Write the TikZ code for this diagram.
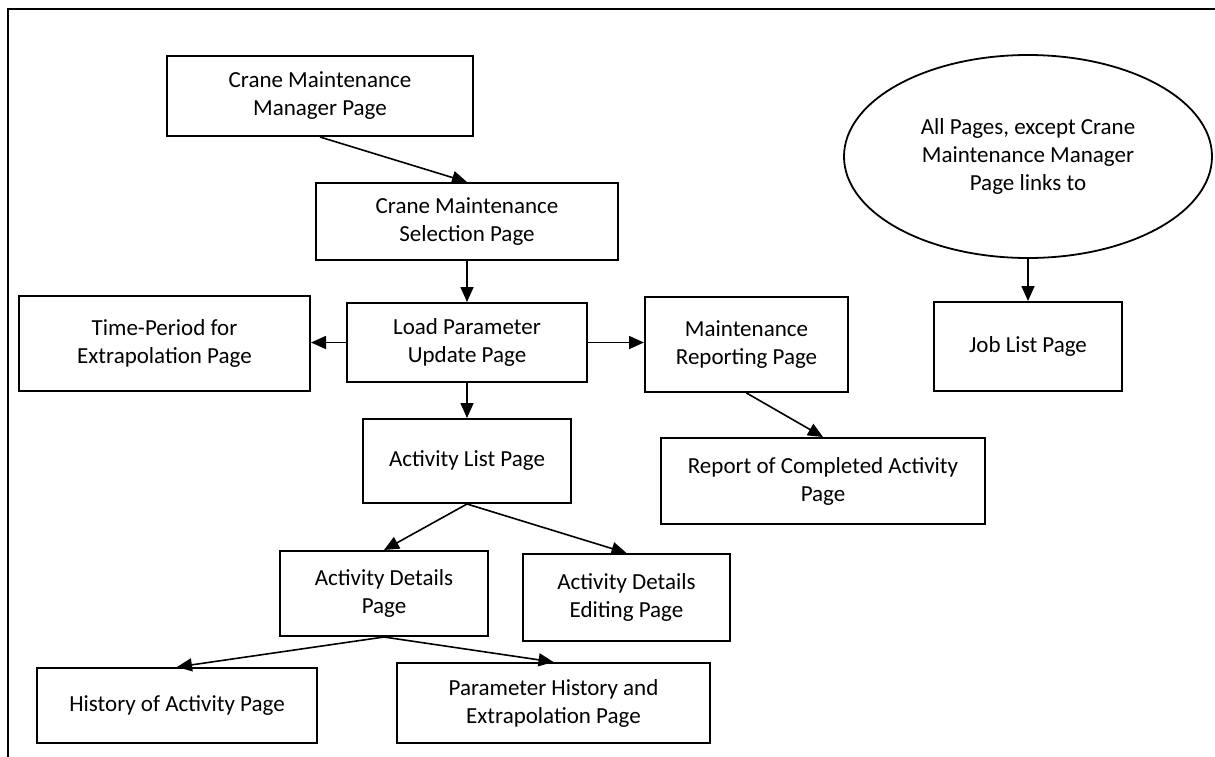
\documentclass[tikz,border=0pt]{standalone}
\usepackage{fontspec}
\setmainfont{Carlito}
\usetikzlibrary{arrows.meta,shapes.geometric}
\begin{document}
\begin{tikzpicture}[x=1pt,y=-1pt,
  pagebox/.style={draw, line width=2pt, align=center, inner sep=2pt,
    font=\fontsize{23}{28}\selectfont},
  note/.style={draw, ellipse, line width=1.8pt, align=center, inner sep=0pt,
    font=\fontsize{23}{28}\selectfont},
  link/.style={line width=1.6pt, -{Triangle[length=15pt,width=13pt]}}]
% page area and the (cut off) frame around it
\clip (0,0) rectangle (1215,756);
\draw[line width=2pt] (8,9) rectangle (1240,780);

% pages
\node[pagebox, minimum width=306, minimum height=80] (cmm) at (320,96)
  {Crane Maintenance\\Manager Page};
\node[pagebox, minimum width=302, minimum height=77] (cms) at (467,221.5)
  {Crane Maintenance\\Selection Page};
\node[pagebox, minimum width=291, minimum height=95] (tp) at (164.5,343.5)
  {Time-Period for\\Extrapolation Page};
\node[pagebox, minimum width=240, minimum height=79] (lpu) at (467,342.5)
  {Load Parameter\\Update Page};
\node[pagebox, minimum width=203, minimum height=95] (mr) at (746.5,344.5)
  {Maintenance\\Reporting Page};
\node[note, minimum width=368, minimum height=203] (all) at (1028,156.5)
  {All Pages, except Crane\\Maintenance Manager\\Page links to};
\node[pagebox, minimum width=188, minimum height=89] (job) at (1028,346.5)
  {Job List Page};
\node[pagebox, minimum width=208, minimum height=84] (al) at (467,461)
  {Activity List Page};
\node[pagebox, minimum width=324, minimum height=86] (rep) at (823,481)
  {Report of Completed Activity\\Page};
\node[pagebox, minimum width=208, minimum height=85] (ad) at (384,593.5)
  {Activity Details\\Page};
\node[pagebox, minimum width=207, minimum height=87] (ade) at (626.5,597.5)
  {Activity Details\\Editing Page};
\node[pagebox, minimum width=280, minimum height=75] (hist) at (177,705.5)
  {History of Activity Page};
\node[pagebox, minimum width=313, minimum height=80] (par) at (553.5,703)
  {Parameter History and\\Extrapolation Page};

% links between pages
\draw[link] (cmm.south) -- (cms.north);
\draw[link] (cms.south) -- (lpu.north);
\draw[link] (lpu.west) -- (lpu.west -| tp.east);
\draw[link] (lpu.east) -- (lpu.east -| mr.west);
\draw[link] (lpu.south) -- (al.north);
\draw[link] (mr.south) -- (rep.north);
\draw[link] (all.south) -- (job.north);
\draw[link] (al.south) -- (ad.north);
\draw[link] (al.south) -- (ade.north);
\draw[link] (ad.south) -- (hist.north);
\draw[link] (ad.south) -- (par.north);
\end{tikzpicture}
\end{document}
